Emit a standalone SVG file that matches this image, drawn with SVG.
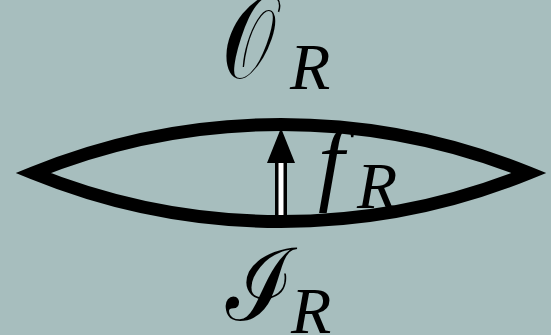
<svg xmlns="http://www.w3.org/2000/svg" width="551" height="335" viewBox="0 0 551 335">
<style>
.cal{font-family:"DejaVu Serif","Liberation Serif",serif;fill:#000}
.it{font-family:'Liberation Serif','Times New Roman',serif;font-style:italic;fill:#000}
.sub{font-size:66px}
.main{font-size:94px}
</style>
<rect width="551" height="335" fill="#a7bebe"/>
<g id="label-O"><text class="cal" font-size="118" transform="translate(222,78) scale(0.72,1)" x="0" y="0">𝒪</text><text class="it sub" x="290" y="89">R</text></g>
<g id="label-f"><text class="it main" x="318" y="193">f</text><text class="it sub" x="357" y="208">R</text></g>
<g id="label-I"><text class="cal" font-size="100" transform="translate(226,320) scale(0.92,1)" x="0" y="0">ℐ</text><text class="it sub" x="291" y="333">R</text></g>
<g id="connectors">
<line x1="281" y1="218" x2="281" y2="160" stroke="#000" stroke-width="12"/>
<line x1="281" y1="218" x2="281" y2="162" stroke="#fff" stroke-width="5"/>
<polygon points="281,128 267,163 295,163" fill="#000"/>
</g>
<g id="lens"><path d="M33,173 A658,658 0 0 1 529,173 A658,658 0 0 1 33,173 Z" fill="none" stroke="#000" stroke-width="13" stroke-linejoin="miter"/></g>
</svg>
